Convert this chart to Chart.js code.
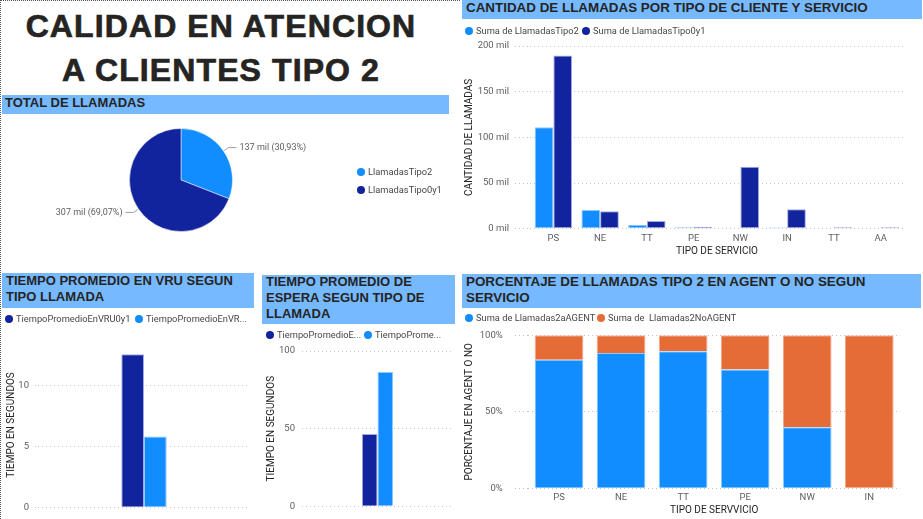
<!DOCTYPE html>
<html>
<head>
<meta charset="utf-8">
<script src="https://cdn.jsdelivr.net/npm/chart.js@4.4.1/dist/chart.umd.min.js"></script>
<style>
body { margin: 0; }
#page { position: relative; width: 923px; height: 519px; background: #fff; overflow: hidden; font-family: Roboto, sans-serif; }
.frame { position: absolute; left: 0; top: 0; width: 460px; height: 519px; border-top: 1px dotted #555; border-left: 1px dotted #555; box-sizing: border-box; }
.title { position: absolute; left: 0; width: 442px; text-align: center; font: bold 32px "Liberation Sans", Arial, sans-serif; letter-spacing: 1.1px; color: #252423; line-height: 44px; -webkit-text-stroke: 0.7px #252423; }
.hdr { position: absolute; background: #76b9ff; color: #252423; font: bold 13px "Liberation Sans", Arial, sans-serif; line-height: 16px; padding-left: 4px; box-sizing: border-box; white-space: nowrap; }
.box { position: absolute; }
.lg { position: absolute; font-size: 9.3px; color: #484644; white-space: pre; line-height: 12px; }
.lg i { display: inline-block; width: 8px; height: 8px; border-radius: 50%; margin-right: 3px; vertical-align: -1px; }
</style>
</head>
<body>
<div id="page">
  <div class="frame"></div>
  <div class="title" style="top:4px">CALIDAD EN ATENCION</div>
  <div class="title" style="top:48px">A CLIENTES TIPO 2</div>

  <div class="hdr" style="left:2px;top:95px;width:447px;height:19px;line-height:15px;padding-left:3px">TOTAL DE LLAMADAS</div>
  <div class="hdr" style="left:462px;top:0;width:460px;height:19px;font-size:13.4px">CANTIDAD DE LLAMADAS POR TIPO DE CLIENTE Y SERVICIO</div>
  <div class="hdr" style="left:2px;top:273px;width:252px;height:35px;">TIEMPO PROMEDIO EN VRU SEGUN<br>TIPO LLAMADA</div>
  <div class="hdr" style="left:262px;top:275px;width:193px;height:49px;"><div style="position:relative;top:-1px">TIEMPO PROMEDIO DE<br>ESPERA SEGUN TIPO DE<br>LLAMADA</div></div>
  <div class="hdr" style="left:462px;top:274px;width:459px;height:34px;font-size:13.4px">PORCENTAJE DE LLAMADAS TIPO 2 EN AGENT O NO SEGUN<br>SERVICIO</div>

  <canvas class="box" id="pie" width="362" height="146" style="left:0;top:114px"></canvas>
  <canvas class="box" id="cantidad" width="463" height="240" style="left:460px;top:20px"></canvas>
  <canvas class="box" id="vru" width="254" height="199" style="left:2px;top:320px"></canvas>
  <canvas class="box" id="espera" width="195" height="181" style="left:262px;top:338px"></canvas>
  <canvas class="box" id="agent" width="463" height="209" style="left:460px;top:310px"></canvas>
</div>

<script>
const totalLabels = ['LlamadasTipo2', 'LlamadasTipo0y1'];
const totalValues = [137400, 306830];

const servicios = ['PS', 'NE', 'TT', 'PE', 'NW', 'IN', 'TT', 'AA'];
const llamadasTipo2 = [111, 20.5, 4.4, 1.5, 1, 1.2, 0, 0];         // miles
const llamadasTipo0y1 = [189.5, 19, 8.4, 2, 67.7, 21.2, 1.5, 1.5]; // miles
const cantidadTicks = [0, 50, 100, 150, 200];

const vruLabels = ['TiempoPromedioEnVRU0y1', 'TiempoPromedioEnVR...'];
const vruValues = [12.55, 5.8];

const esperaLabels = ['TiempoPromedioE...', 'TiempoProme...'];
const esperaValues = [46.5, 86.5];

const serviciosAgent = ['PS', 'NE', 'TT', 'PE', 'NW', 'IN'];
const pctAgent = [84.1, 88.5, 89.5, 77.6, 39.9, 0];
const pctNoAgent = [15.9, 11.5, 10.5, 22.4, 60.1, 100];

const LIGHT = '#118dff', DARK = '#12239e', ORANGE = '#e66c37';
const TICK = '#605e5c', AXT = '#252423', GRID = '#c8c6c4';

Chart.defaults.font.family = 'Roboto, sans-serif';
Chart.defaults.animation = false;
Chart.defaults.responsive = false;
Chart.defaults.plugins.legend.display = false;
Chart.defaults.plugins.tooltip.enabled = false;

// html legend built from the chart datasets
function makeLegend(chart, top, lefts, vertical) {
  const page = document.getElementById('page');
  const ds = chart.config.type === 'pie'
    ? chart.data.labels.map((l, i) => ({label: l, color: chart.data.datasets[0].backgroundColor[i]}))
    : chart.data.datasets.map(d => ({label: d.label, color: d.backgroundColor}));
  ds.forEach((d, i) => {
    const el = document.createElement('div');
    el.className = 'lg';
    el.style.left = lefts[vertical ? 0 : i] + 'px';
    el.style.top = (top + (vertical ? i * 17.5 : 0)) + 'px';
    el.innerHTML = '<i style="background:' + d.color + '"></i>' + d.label;
    page.appendChild(el);
  });
}

// outside labels for the pie with a leader line
const pieLabels = {
  id: 'pieLabels',
  afterDatasetsDraw(chart) {
    const ctx = chart.ctx;
    const data = chart.data.datasets[0].data;
    const total = data.reduce((a, b) => a + b, 0);
    chart.getDatasetMeta(0).data.forEach((arc, i) => {
      const p = arc.getProps(['x', 'y', 'startAngle', 'endAngle', 'outerRadius']);
      const mid = (p.startAngle + p.endAngle) / 2;
      const c = Math.cos(mid), s = Math.sin(mid);
      const x0 = p.x + c * (p.outerRadius + 1), y0 = p.y + s * (p.outerRadius + 1);
      const x1 = p.x + c * (p.outerRadius + 6), y1 = p.y + s * (p.outerRadius + 6);
      const dir = c >= 0 ? 1 : -1;
      const x2 = x1 + dir * 8;
      ctx.save();
      ctx.strokeStyle = '#a19f9d';
      ctx.lineWidth = 1;
      ctx.beginPath();
      ctx.moveTo(x0, y0); ctx.lineTo(x1, y1); ctx.lineTo(x2, y1);
      ctx.stroke();
      const txt = Math.round(data[i] / 1000) + ' mil (' + (data[i] / total * 100).toFixed(2).replace('.', ',') + '%)';
      ctx.font = '9px Roboto, sans-serif';
      ctx.fillStyle = TICK;
      ctx.textBaseline = 'middle';
      ctx.textAlign = dir > 0 ? 'left' : 'right';
      ctx.fillText(txt, x2 + dir * 3, y1);
      ctx.restore();
    });
  }
};

function yAxis(title, width, extra) {
  return Object.assign({
    beginAtZero: true,
    ticks: {color: TICK, font: {size: 9.5}},
    grid: {color: GRID, tickColor: GRID, tickBorderDash: [1, 3]},
    border: {display: false, dash: [1, 3]},
    title: {display: true, text: title, color: AXT, font: {size: 10}, padding: {top: 3, bottom: 0}},
    afterFit(s) { s.width = width; }
  }, extra);
}

function xAxis(title, height, extra) {
  return Object.assign({
    grid: {display: false, drawTicks: false}, border: {display: false},
    ticks: {color: TICK, font: {size: 9.5}, padding: 4},
    title: {display: true, text: title, color: AXT, font: {size: 10}, padding: {top: 0, bottom: 3}},
    afterFit(s) { s.height = height; }
  }, extra);
}

// TOTAL DE LLAMADAS
const pie = new Chart(document.getElementById('pie'), {
  type: 'pie',
  data: {
    labels: totalLabels,
    datasets: [{data: totalValues, backgroundColor: [LIGHT, DARK], borderColor: 'rgba(255,255,255,0.5)', borderWidth: 1}]
  },
  options: {layout: {padding: {left: 129, right: 129, top: 14, bottom: 28}}},
  plugins: [pieLabels]
});
makeLegend(pie, 166, [357], true);

// CANTIDAD DE LLAMADAS
const cantidad = new Chart(document.getElementById('cantidad'), {
  type: 'bar',
  data: {
    labels: servicios,
    datasets: [
      {label: 'Suma de LlamadasTipo2', data: llamadasTipo2, backgroundColor: LIGHT, borderColor: '#8fc8ff', borderWidth: 1, borderSkipped: false},
      {label: 'Suma de LlamadasTipo0y1', data: llamadasTipo0y1, backgroundColor: DARK, borderColor: '#a3abe3', borderWidth: 1, borderSkipped: false}
    ]
  },
  options: {
    categoryPercentage: 0.8, barPercentage: 1,
    layout: {padding: {top: 26, right: 19}},
    scales: {
      x: xAxis('TIPO DE SERVICIO', 31.3),
      y: yAxis('CANTIDAD DE LLAMADAS', 70, {
        min: cantidadTicks[0], max: cantidadTicks[cantidadTicks.length - 1],
        afterBuildTicks(s) { s.ticks = cantidadTicks.map(v => ({value: v})); },
        ticks: {color: TICK, font: {size: 9.5}, padding: 6, callback: v => v + ' mil'},
        grid: {color: GRID, tickColor: GRID, tickLength: 15, tickBorderDash: [1, 3]}
      })
    }
  }
});
makeLegend(cantidad, 25, [465, 582]);

// TIEMPO PROMEDIO EN VRU
const vru = new Chart(document.getElementById('vru'), {
  type: 'bar',
  data: {
    labels: [''],
    datasets: [
      {label: vruLabels[0], data: [vruValues[0]], backgroundColor: DARK, borderColor: '#a3abe3', borderWidth: 1},
      {label: vruLabels[1], data: [vruValues[1]], backgroundColor: LIGHT, borderColor: '#8fc8ff', borderWidth: 1}
    ]
  },
  options: {
    categoryPercentage: 0.214, barPercentage: 1,
    layout: {padding: {top: 22.6, right: 6, bottom: 10.3}},
    scales: {
      x: {display: false},
      y: yAxis('TIEMPO EN SEGUNDOS', 36, {
        max: 13.5,
        ticks: {color: TICK, font: {size: 9.5}, padding: 6, stepSize: 5, includeBounds: false},
        grid: {color: GRID, tickColor: GRID, tickLength: 3, tickBorderDash: [1, 3]}
      })
    }
  }
});
makeLegend(vru, 313, [5, 135]);

// TIEMPO PROMEDIO DE ESPERA
const espera = new Chart(document.getElementById('espera'), {
  type: 'bar',
  data: {
    labels: [''],
    datasets: [
      {label: esperaLabels[0], data: [esperaValues[0]], backgroundColor: DARK, borderColor: '#a3abe3', borderWidth: 1},
      {label: esperaLabels[1], data: [esperaValues[1]], backgroundColor: LIGHT, borderColor: '#8fc8ff', borderWidth: 1}
    ]
  },
  options: {
    categoryPercentage: 0.207, barPercentage: 1,
    layout: {padding: {top: 13, right: 4, bottom: 9.7}},
    scales: {
      x: {display: false},
      y: yAxis('TIEMPO EN SEGUNDOS', 40, {
        max: 100,
        ticks: {color: TICK, font: {size: 9.5}, padding: 7, stepSize: 50},
        grid: {color: GRID, drawTicks: false}
      })
    }
  }
});
makeLegend(espera, 329, [266, 364]);

// PORCENTAJE AGENT / NO AGENT
const agent = new Chart(document.getElementById('agent'), {
  type: 'bar',
  data: {
    labels: serviciosAgent,
    datasets: [
      {label: 'Suma de Llamadas2aAGENT', data: pctAgent, backgroundColor: LIGHT, borderColor: '#8fc8ff', borderWidth: 1},
      {label: 'Suma de  Llamadas2NoAGENT', data: pctNoAgent, backgroundColor: ORANGE, borderColor: '#f2a585', borderWidth: 1}
    ]
  },
  options: {
    categoryPercentage: 0.785, barPercentage: 1,
    layout: {padding: {top: 25.3, right: 22.7}},
    scales: {
      x: xAxis('TIPO DE SERVVICIO', 30.7, {stacked: true}),
      y: yAxis('PORCENTAJE EN AGENT O NO', 68, {
        stacked: true, max: 100,
        ticks: {color: TICK, font: {size: 9.5}, padding: 12.3, stepSize: 50, callback: v => v + '%'},
        grid: {color: GRID, tickColor: GRID, tickLength: 13, tickBorderDash: [1, 3]}
      })
    }
  }
});
makeLegend(agent, 312, [465, 597]);
</script>
</body>
</html>
